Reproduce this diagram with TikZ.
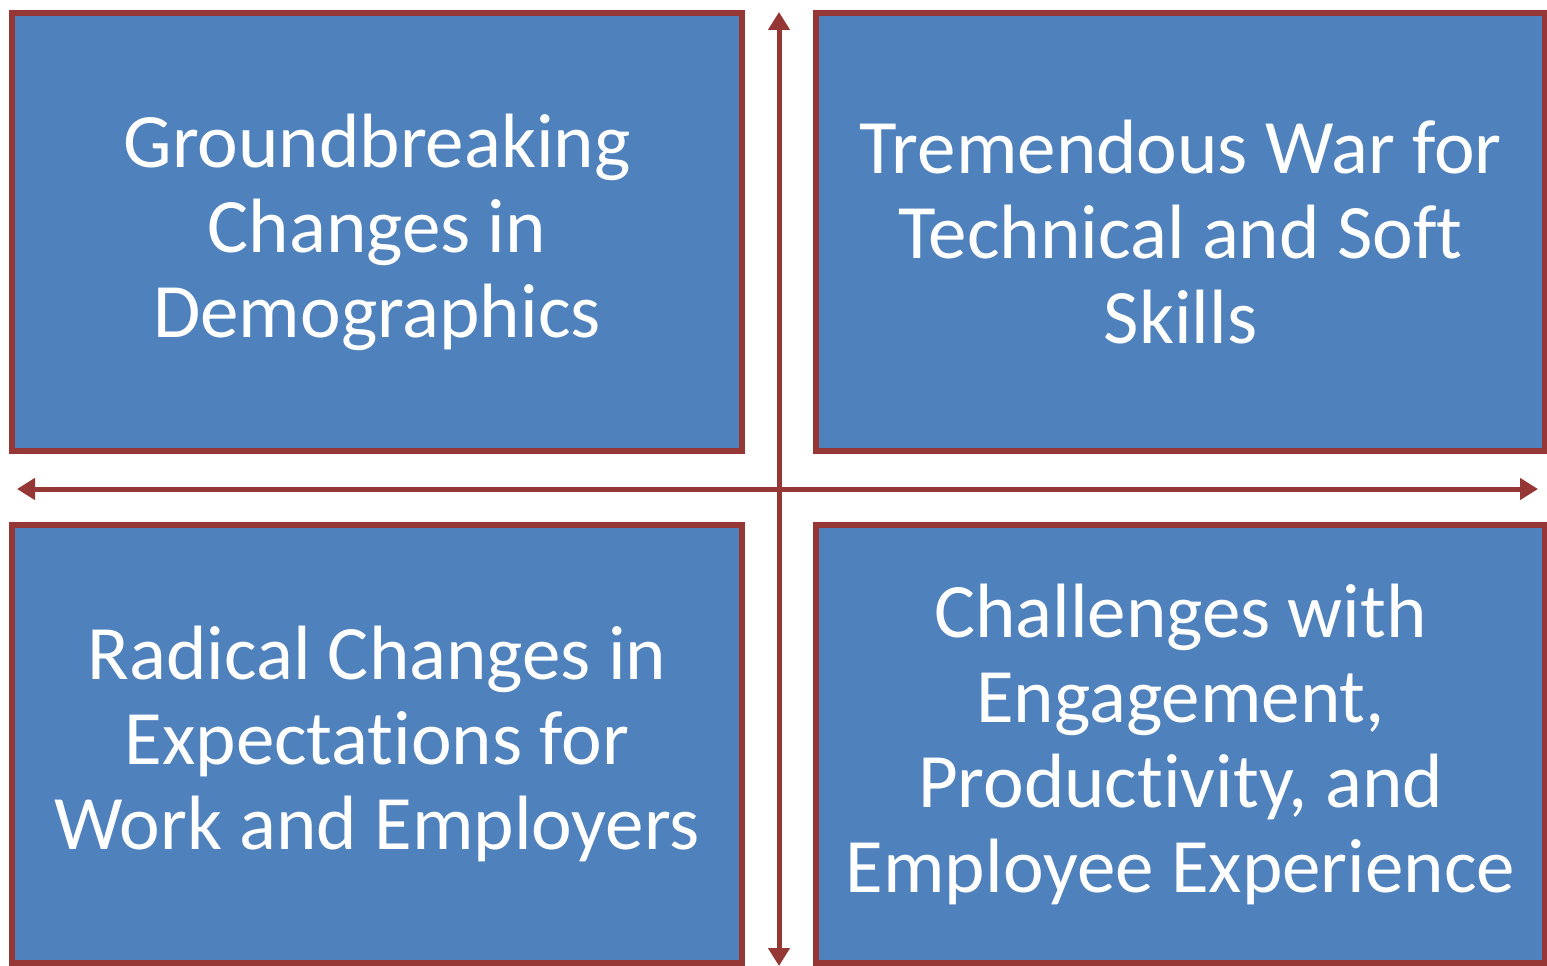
\documentclass[tikz,border=0pt]{standalone}
\usepackage{fontspec}
\setmainfont{Carlito}[Ligatures=NoCommon]
\usetikzlibrary{arrows.meta}
\definecolor{boxblue}{HTML}{4F81BD}
\definecolor{boxred}{HTML}{953735}
\begin{document}
\begin{tikzpicture}[x=1pt,y=-1pt,
  quad/.style={draw=boxred, line width=5.5pt, fill=boxblue, inner sep=0pt,
    minimum width=730pt, minimum height=438pt, text=white, align=center,
    font=\fontsize{77}{85}\selectfont},
  axis/.style={draw=boxred, line width=5pt,
    {Triangle[length=18pt,width=21pt]}-{Triangle[length=18pt,width=21pt]}}]
\useasboundingbox (0,0) rectangle (1547,966);
% four quadrant boxes
\node[quad] (tl) at (377,232) {Groundbreaking\\Changes in\\Demographics};
\node[quad, minimum width=729pt] (tr) at (1180.5,232) {Tremendous War for\\Technical and Soft\\Skills};
\node[quad] (bl) at (377,744) {Radical Changes in\\Expectations for\\Work and Employers};
\node[quad, minimum width=729pt] (br) at (1180.5,744) {Challenges with\\Engagement,\\Productivity, and\\Employee Experience};
% axis end points
\coordinate (top) at (779,12);
\coordinate (bottom) at (779,966);
\coordinate (left) at (17,489);
\coordinate (right) at (1538,489);
% double-headed axes
\draw[axis] (left) -- (right);
\draw[axis] (bottom) -- (top);
\end{tikzpicture}
\end{document}
